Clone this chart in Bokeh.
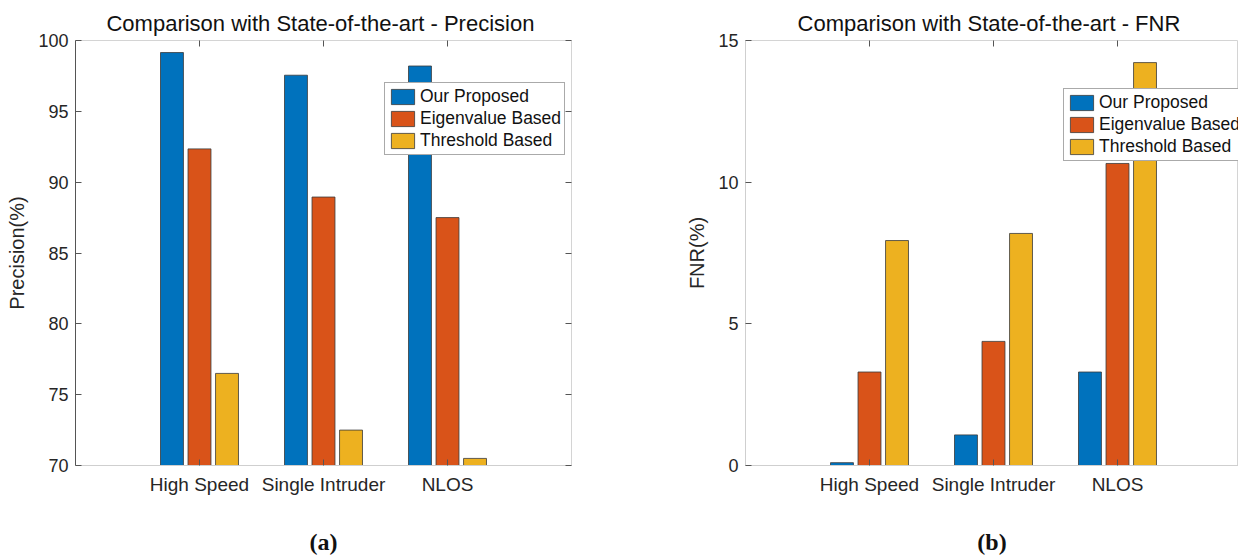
from bokeh.plotting import figure
from bokeh.layouts import row
from bokeh.models import FixedTicker, LinearAxis, Range1d, Legend, LegendItem
from bokeh.embed import file_html
from bokeh.resources import INLINE

categories = ["High Speed", "Single Intruder", "NLOS"]
series_names = ["Our Proposed", "Eigenvalue Based", "Threshold Based"]
series_colors = ["#0072BD", "#D95319", "#EDB120"]

precision_ours = [99.15, 97.55, 98.2]
precision_eigen = [92.35, 88.95, 87.5]
precision_thresh = [76.5, 72.5, 70.5]

fnr_ours = [0.1, 1.08, 3.3]
fnr_eigen = [3.3, 4.38, 10.66]
fnr_thresh = [7.94, 8.19, 14.22]

precision_ticks = [70, 75, 80, 85, 90, 95, 100]
fnr_ticks = [0, 5, 10, 15]

FONT = "Liberation Sans"
TXT = "#262626"
offsets = [-0.222, 0.0, 0.222]
bar_w = 0.185


def make_panel(title, ylabel, series, y0, y1, yticks, width, b_left, b_right,
               xmax, caption, yaxis_color, leg_xy, right_axis):
    p = figure(width=width, height=557, output_backend="svg", toolbar_location=None,
               x_range=Range1d(0, xmax), y_range=Range1d(y0, y1),
               min_border_left=b_left, min_border_right=b_right,
               min_border_top=40, min_border_bottom=92)
    p.grid.visible = False
    p.outline_line_color = "#d4d4d4"
    p.outline_line_width = 1
    p.background_fill_color = "white"
    p.border_fill_color = "white"

    p.title.text = title
    p.title.align = "center"
    p.title.text_font = FONT
    p.title.text_font_size = "22px"
    p.title.text_font_style = "normal"
    p.title.text_color = "#111111"
    p.title.standoff = 9

    items = []
    for i, (name, vals, col) in enumerate(zip(series_names, series, series_colors)):
        xs = [k + 1 + offsets[i] for k in range(len(categories))]
        r = p.vbar(x=xs, top=vals, bottom=y0, width=bar_w, fill_color=col,
                   line_color="#3a3a3a", line_width=0.8)
        items.append(LegendItem(label=name, renderers=[r]))

    xa = p.xaxis[0]
    xa.ticker = FixedTicker(ticks=[1, 2, 3])
    xa.major_label_overrides = {i + 1: c for i, c in enumerate(categories)}
    xa.major_label_text_font = FONT
    xa.major_label_text_font_size = "19px"
    xa.major_label_text_color = TXT
    xa.major_tick_in = 6
    xa.major_tick_out = 0
    xa.minor_tick_line_color = None
    xa.major_tick_line_color = "#555555"
    xa.axis_line_color = "#cfcfcf"
    xa.major_label_standoff = 8
    xa.axis_label = caption
    xa.axis_label_text_font = "Liberation Serif"
    xa.axis_label_text_font_size = "24px"
    xa.axis_label_text_font_style = "bold"
    xa.axis_label_text_color = "#111111"
    xa.axis_label_standoff = 31

    ya = p.yaxis[0]
    ya.ticker = FixedTicker(ticks=yticks)
    ya.major_label_text_font = FONT
    ya.major_label_text_font_size = "18px"
    ya.major_label_text_color = TXT
    ya.major_tick_in = 6
    ya.major_tick_out = 0
    ya.minor_tick_line_color = None
    ya.major_tick_line_color = "#555555"
    ya.axis_line_color = yaxis_color
    ya.major_label_standoff = 7
    ya.axis_label = ylabel
    ya.axis_label_text_font = FONT
    ya.axis_label_text_font_size = "20px"
    ya.axis_label_text_font_style = "normal"
    ya.axis_label_text_color = TXT
    ya.axis_label_standoff = 7

    top = LinearAxis(ticker=FixedTicker(ticks=[1, 2, 3]), major_label_text_alpha=0,
                     major_label_text_font_size="1px", major_tick_in=6, major_tick_out=0,
                     minor_tick_line_color=None, axis_line_color=None,
                     major_tick_line_color="#555555", major_label_standoff=0)
    p.add_layout(top, "above")
    if right_axis:
        rax = LinearAxis(ticker=FixedTicker(ticks=yticks), major_label_text_alpha=0,
                         major_label_text_font_size="1px", major_tick_in=6, major_tick_out=0,
                         minor_tick_line_color=None, axis_line_color=None,
                         major_tick_line_color="#555555", major_label_standoff=0)
        p.add_layout(rax, "right")

    leg = Legend(items=items, location=leg_xy, orientation="vertical",
                 label_text_font=FONT, label_text_font_size="17.5px", label_text_color="#111111",
                 glyph_width=29, glyph_height=19, label_height=19, label_standoff=3,
                 spacing=1, padding=3, margin=0,
                 border_line_color="#555555", border_line_width=1,
                 background_fill_color="white", background_fill_alpha=1)
    p.add_layout(leg)
    return p


p1 = make_panel("Comparison with State-of-the-art  - Precision", "Precision(%)",
                [precision_ours, precision_eigen, precision_thresh], 70, 100, precision_ticks,
                620, 75, 49, 4.0, "(a)", "#555555", (309, 310), True)
p2 = make_panel("Comparison with State-of-the-art  - FNR", "FNR(%)",
                [fnr_ours, fnr_eigen, fnr_thresh], 0, 15, fnr_ticks,
                618, 125, 0, 4.0 * 493 / 496, "(b)", "#cfcfcf", (318, 304), False)

layout = row(p1, p2, spacing=0)
open("out.html", "w").write(file_html(layout, INLINE))
